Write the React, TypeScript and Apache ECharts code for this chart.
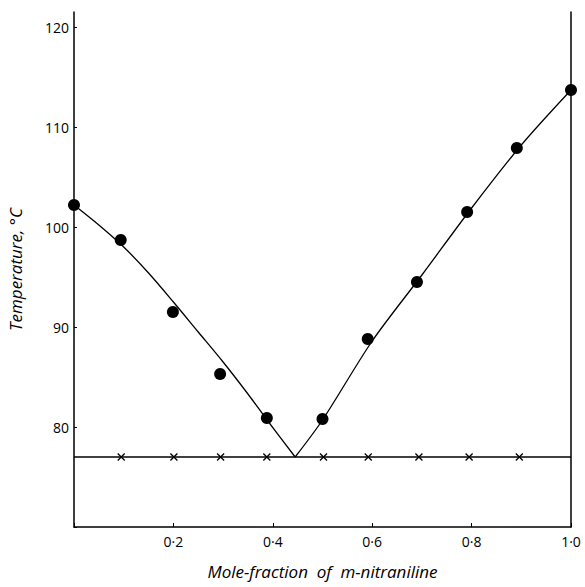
import React, { useEffect, useRef } from "react";
import * as echarts from "echarts";

// Measured points (circles): mole-fraction, temperature
const circleX = [0.0, 0.094, 0.199, 0.294, 0.388, 0.5, 0.591, 0.69, 0.791, 0.891, 1.0];
const circleT = [102.2, 98.7, 91.5, 85.3, 80.9, 80.8, 88.8, 94.5, 101.5, 107.9, 113.7];

// Eutectic arrest points (crosses)
const crossX = [0.095, 0.201, 0.295, 0.388, 0.502, 0.592, 0.694, 0.795, 0.896];
const eutecticT = 77.0;

// Liquidus curve branches (drawn through points)
const leftCurveX = [0.0, 0.05, 0.1, 0.15, 0.2, 0.25, 0.3, 0.35, 0.39, 0.445];
const leftCurveT = [102.2, 100.2, 98.0, 95.4, 92.5, 89.5, 86.5, 83.3, 80.6, 77.0];
const rightCurveX = [0.445, 0.5, 0.6, 0.7, 0.8, 0.9, 1.0];
const rightCurveT = [77.0, 80.7, 88.6, 95.2, 101.9, 108.2, 113.7];

const xTicks = [0.2, 0.4, 0.6, 0.8, 1.0];
const yTicks = [80, 90, 100, 110, 120];

const font = "'Open Sans', 'DejaVu Sans', sans-serif";

export default function App() {
  const ref = useRef<HTMLDivElement>(null);
  useEffect(() => {
    if (!ref.current) return;
    const chart = echarts.init(ref.current, undefined, { renderer: "svg" });
    const zip = (xs: number[], ys: number[]) => xs.map((x, i) => [x, ys[i]]);
    chart.setOption({
      animation: false,
      backgroundColor: "#ffffff",
      grid: { left: 74, right: 14, top: 12, bottom: 60, containLabel: false, outerBoundsMode: "none" },
      xAxis: {
        type: "value",
        min: 0,
        max: 1,
        interval: 0.2,
        name: "Mole-fraction  of  m-nitraniline",
        nameLocation: "middle",
        nameGap: 36,
        nameTextStyle: { fontFamily: font, fontStyle: "italic", fontSize: 17, color: "#000" },
        axisLine: { lineStyle: { color: "#000", width: 1.5 } },
        axisTick: { inside: true, length: 4, lineStyle: { color: "#000" } },
        splitLine: { show: false },
        axisLabel: {
          fontFamily: font,
          fontSize: 14,
          color: "#000",
          margin: 7,
          formatter: (v: number) =>
            xTicks.some((t) => Math.abs(t - v) < 1e-6) ? v.toFixed(1).replace(".", "·") : "",
        },
      },
      yAxis: [
        {
          type: "value",
          min: 70,
          max: 121.5,
          interval: 10,
          name: "Temperature, °C",
          nameLocation: "middle",
          nameGap: 50,
          nameRotate: 90,
          nameTextStyle: { fontFamily: font, fontStyle: "italic", fontSize: 17, color: "#000" },
          axisLine: { show: true, lineStyle: { color: "#000", width: 1.5 } },
          axisTick: { show: true, inside: true, length: 3, lineStyle: { color: "#000" } },
          splitLine: { show: false },
          axisLabel: {
            fontFamily: font,
            fontSize: 14,
            color: "#000",
            margin: 5,
            showMaxLabel: false,
            formatter: (v: number) =>
              yTicks.includes(Math.round(v)) && Math.abs(v - Math.round(v)) < 1e-6 ? String(Math.round(v)) : "",
          },
        },
        {
          type: "value",
          position: "right",
          min: 70,
          max: 121.5,
          axisLine: { show: true, lineStyle: { color: "#000", width: 1.5 } },
          axisTick: { show: false },
          axisLabel: { show: false },
          splitLine: { show: false },
        },
      ],
      series: [
        {
          type: "line",
          data: zip(leftCurveX, leftCurveT),
          smooth: 0.3,
          symbol: "none",
          lineStyle: { color: "#000", width: 1.3 },
        },
        {
          type: "line",
          data: zip(rightCurveX, rightCurveT),
          smooth: 0.3,
          symbol: "none",
          lineStyle: { color: "#000", width: 1.3 },
        },
        {
          type: "line",
          data: [
            [0, eutecticT],
            [1, eutecticT],
          ],
          symbol: "none",
          lineStyle: { color: "#000", width: 1.3 },
        },
        {
          type: "scatter",
          data: crossX.map((x) => [x, eutecticT]),
          symbol: "path://M0,0L10,10M10,0L0,10",
          symbolSize: 7,
          itemStyle: { color: "none", borderColor: "#000", borderWidth: 1.3, opacity: 1 },
        },
        {
          type: "scatter",
          data: zip(circleX, circleT),
          symbol: "circle",
          symbolSize: 12,
          itemStyle: { color: "#000", opacity: 1 },
        },
      ],
    });
    return () => chart.dispose();
  }, []);
  return <div ref={ref} style={{ width: 585, height: 587, position: "absolute", left: 0, top: 0 }} />;
}
